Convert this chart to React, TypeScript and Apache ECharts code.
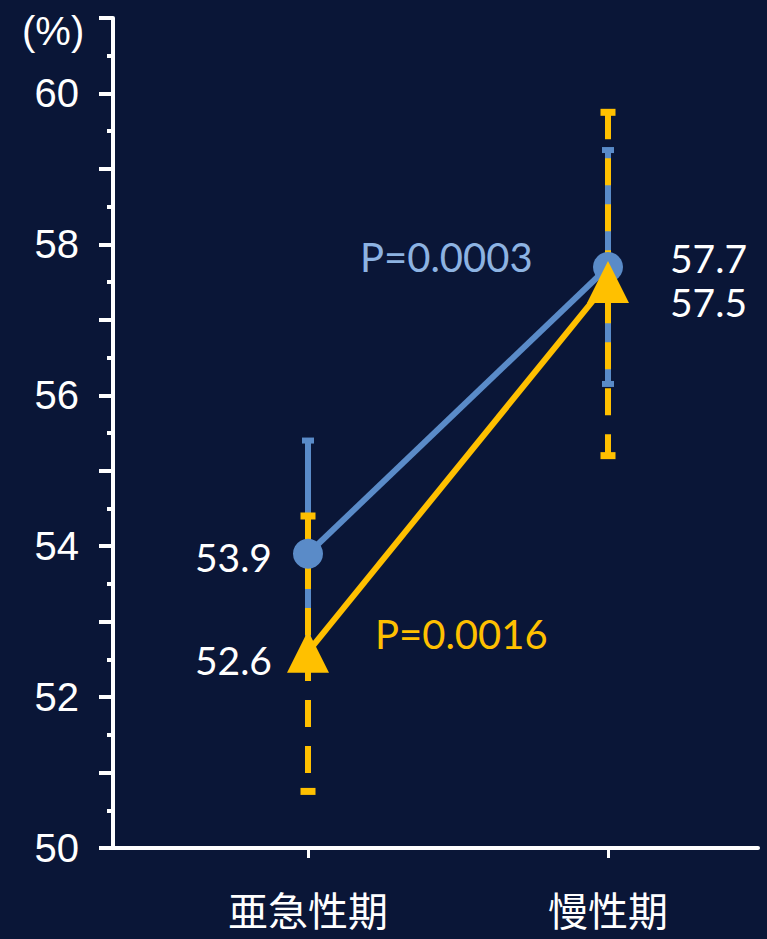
import React, { useEffect, useRef } from "react";
import * as echarts from "echarts";

const categories = ["亜急性期", "慢性期"];
const categoryPos = [0, 1];
const blueMeans = [53.9, 57.7];
const blueUpper = [55.4, 59.25];
const blueLower = [52.4, 56.15];
const yellowMeans = [52.6, 57.5];
const yellowUpper = [54.4, 59.75];
const yellowLower = [50.75, 55.2];
const pBlue = "P=0.0003";
const pYellow = "P=0.0016";
const yMin = 50;
const yMax = 61;
const yUnit = "(%)";

const BG = "#0a1637";
const BLUE = "#5a8bc8";
const BLUE_TEXT = "#8db3e2";
const YELLOW = "#ffc000";
const WHITE = "#ffffff";

function errorBarRender(color: string, dashed: boolean, capW: number, capH: number) {
  return (params: any, api: any) => {
    const x = api.value(0);
    const lo = api.coord([x, api.value(1)]);
    const hi = api.coord([x, api.value(2)]);
    return {
      type: "group",
      children: [
        {
          type: "line",
          shape: { x1: hi[0], y1: hi[1], x2: lo[0], y2: lo[1] },
          style: { stroke: color, lineWidth: 6, lineDash: dashed ? [27, 19] : null },
        },
        {
          type: "rect",
          shape: { x: hi[0] - capW / 2, y: hi[1] - capH / 2, width: capW, height: capH },
          style: { fill: color },
        },
        {
          type: "rect",
          shape: { x: lo[0] - capW / 2, y: lo[1] - capH / 2, width: capW, height: capH },
          style: { fill: color },
        },
      ],
    };
  };
}

export default function App() {
  const ref = useRef<HTMLDivElement>(null);
  useEffect(() => {
    if (!ref.current) return;
    const chart = echarts.init(ref.current, null, { renderer: "svg" });
    const labelFont = { fontFamily: "Lato", fontSize: 39, lineHeight: 40, color: WHITE };
    const option: any = {
      animation: false,
      backgroundColor: BG,
      grid: { left: 113, right: 9, top: 18, bottom: 91 },
      xAxis: {
        type: "value",
        min: -0.65,
        max: 1.5,
        splitLine: { show: false },
        axisLine: { show: true, onZero: false, lineStyle: { color: WHITE, width: 4 } },
        axisTick: { show: true, customValues: categoryPos, length: 10, lineStyle: { color: WHITE, width: 3 } },
        axisLabel: {
          customValues: categoryPos,
          formatter: (v: number) => categories[Math.round(v)] ?? "",
          color: WHITE,
          fontSize: 40,
          lineHeight: 40,
          fontFamily: "Noto Sans CJK JP",
          margin: 41,
        },
      },
      yAxis: {
        type: "value",
        min: yMin,
        max: yMax,
        interval: 1,
        splitLine: { show: false },
        axisLine: { show: true, onZero: false, lineStyle: { color: WHITE, width: 4 } },
        axisTick: { show: true, length: 14, lineStyle: { color: WHITE, width: 4 } },
        minorTick: { show: true, splitNumber: 2, length: 6, lineStyle: { color: WHITE, width: 4 } },
        axisLabel: {
          formatter: (v: number) => (v % 2 === 0 && v < yMax ? String(v) : ""),
          color: WHITE,
          fontSize: 40,
          fontFamily: "Liberation Sans",
          margin: 34,
        },
      },
      series: [
        {
          type: "custom",
          renderItem: errorBarRender(BLUE, false, 12, 6),
          data: categoryPos.map((x, i) => [x, blueLower[i], blueUpper[i]]),
          encode: { x: 0, y: [1, 2] },
          z: 1,
        },
        {
          type: "custom",
          renderItem: errorBarRender(YELLOW, true, 15, 7),
          data: categoryPos.map((x, i) => [x, yellowLower[i], yellowUpper[i]]),
          encode: { x: 0, y: [1, 2] },
          z: 2,
        },
        {
          type: "line",
          data: categoryPos.map((x, i) => ({
            value: [x, blueMeans[i]],
            label:
              i === 0
                ? { show: true, position: "left", distance: 21, offset: [0, 3], ...labelFont }
                : { show: true, position: "right", distance: 47, offset: [0, -9], ...labelFont },
          })),
          symbol: "circle",
          symbolSize: 30,
          lineStyle: { color: BLUE, width: 6 },
          itemStyle: { color: BLUE },
          label: { formatter: (p: any) => p.value[1].toFixed(1) },
          z: 3,
        },
        {
          type: "line",
          data: categoryPos.map((x, i) => ({
            value: [x, yellowMeans[i]],
            label:
              i === 0
                ? { show: true, position: "left", distance: 15, offset: [0, 8], ...labelFont }
                : { show: true, position: "right", distance: 41, offset: [0, 20], ...labelFont },
          })),
          symbol: "triangle",
          symbolSize: 42,
          lineStyle: { color: YELLOW, width: 6 },
          itemStyle: { color: YELLOW },
          label: { formatter: (p: any) => p.value[1].toFixed(1) },
          z: 4,
        },
      ],
      graphic: [
        {
          type: "text",
          left: 22,
          top: 11,
          style: { text: yUnit, fill: WHITE, font: "40px 'Liberation Sans'" },
        },
        {
          type: "text",
          x: 360,
          y: 257,
          style: { text: pBlue, fill: BLUE_TEXT, font: "40px Lato", textVerticalAlign: "middle" },
        },
        {
          type: "text",
          x: 375,
          y: 634,
          style: { text: pYellow, fill: YELLOW, font: "40px Lato", textVerticalAlign: "middle" },
        },
      ],
    };
    chart.setOption(option);
    return () => chart.dispose();
  }, []);
  return (
    <div
      ref={ref}
      style={{ position: "fixed", left: 0, top: 0, width: 767, height: 939 }}
    />
  );
}
